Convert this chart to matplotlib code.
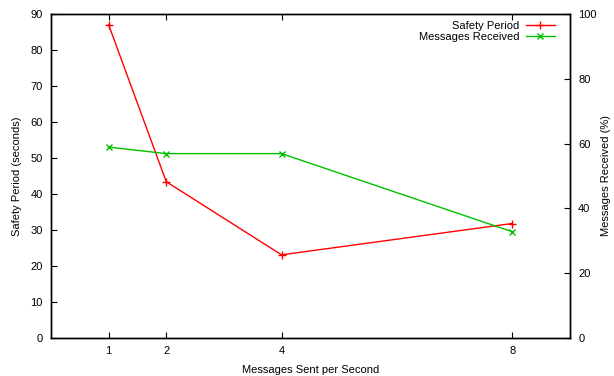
import matplotlib
matplotlib.use('Agg')
import matplotlib.pyplot as plt

plt.rcParams['font.family'] = ['Liberation Sans', 'DejaVu Sans']
plt.rcParams['font.size'] = 8

# messages per second vs safety period and delivery ratio
rate = [1, 2, 4, 8]
safety_period = [87.0, 43.4, 23.1, 31.8]
received_pct = [58.9, 56.9, 56.9, 32.8]

fig = plt.figure(figsize=(6.14, 3.76), dpi=100)
ax = fig.add_axes([0.083, 0.101, 0.845, 0.862])
ax2 = ax.twinx()

l1, = ax.plot(rate, safety_period, color='#ff0000', marker='+', markersize=6,
              markeredgewidth=1, linewidth=1, label='Safety Period')
l2, = ax2.plot(rate, received_pct, color='#00c000', marker='x', markersize=4.5,
               markeredgewidth=1, linewidth=1, label='Messages Received')

ax.set_xlim(0, 9)
ax.set_ylim(0, 90)
ax2.set_ylim(0, 100)
ax.set_xticks(rate)
ax.set_yticks(range(0, 91, 10))
ax2.set_yticks(range(0, 101, 20))

ax.tick_params(axis='x', direction='in', top=True, length=4, pad=6)
ax.tick_params(axis='y', direction='in', length=4, pad=6)
ax2.tick_params(axis='y', direction='in', length=4, pad=6)

for a in (ax, ax2):
    for s in a.spines.values():
        s.set_linewidth(1)

ax.set_xlabel('Messages Sent per Second', labelpad=6)
ax.set_ylabel('Safety Period (seconds)', labelpad=6)
ax2.set_ylabel('Messages Received (%)', labelpad=3)

# legend tucked in the top right corner, labels right-aligned before the sample
leg = ax.legend(handles=[l1, l2], loc='upper right', bbox_to_anchor=(0.985, 1.0),
                frameon=False, markerfirst=False, handlelength=2.6,
                borderaxespad=0.25, labelspacing=0.1, handletextpad=0.6)
for t in leg.get_texts():
    t.set_ha('right')

fig.savefig('out.png', dpi=100)
